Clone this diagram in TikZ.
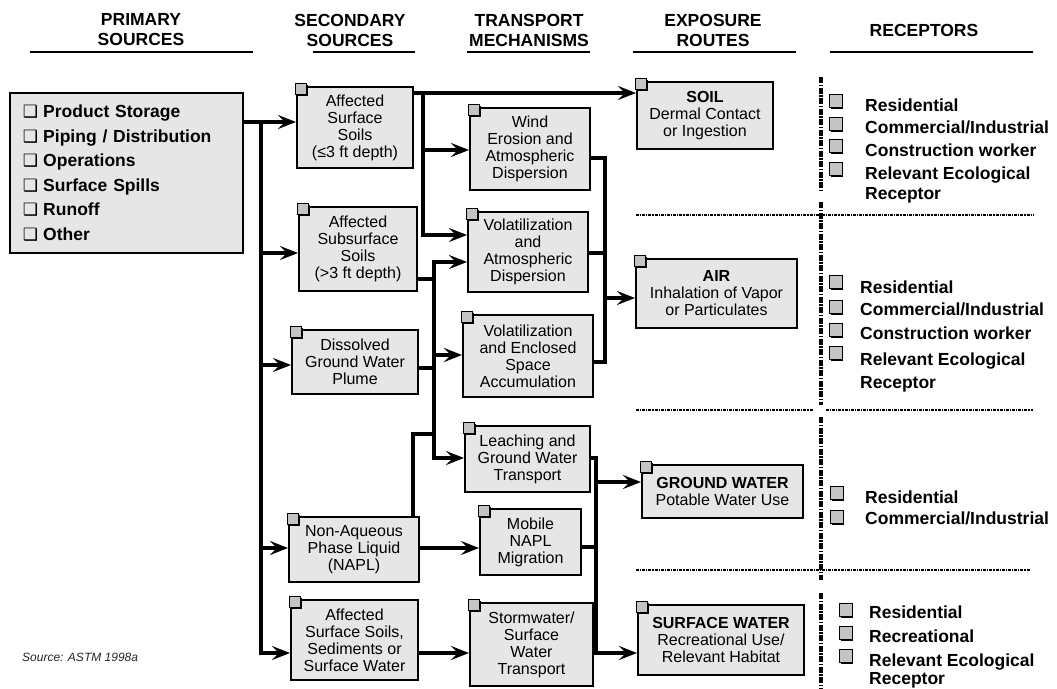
\documentclass[tikz,border=0pt]{standalone}
\usepackage{fontspec}
\setmainfont{Liberation Sans}
\newfontfamily\djv{DejaVu Sans}
\usetikzlibrary{arrows.meta,calc}
\definecolor{boxgray}{HTML}{E6E6E6}
\definecolor{sqgray}{HTML}{C4C4C4}
\newcommand{\fsbody}{\fontsize{16}{17}\selectfont}
\newcommand{\fshdr}{\fontsize{17.5}{20}\selectfont\bfseries}
\newcommand{\fsrec}{\fontsize{17.5}{20}\selectfont\bfseries}
\newcommand{\fslist}{\fontsize{17.5}{24.6}\selectfont\bfseries}
\newcommand{\fssrc}{\fontsize{12}{14}\selectfont\itshape}
\newcommand{\chk}{{\djv\fontsize{17}{17}\selectfont ❑}\hspace{5pt}}
\tikzset{
  box/.style={draw=black, line width=2pt, fill=boxgray, align=center, inner sep=1pt, font=\fsbody},
  conn/.style={line width=3.2pt, line cap=rect, line join=miter},
  arr/.style={line width=3.2pt, -{Stealth[length=18pt,width=14pt,inset=7pt]}},
  hdr/.style={font=\fshdr, align=center, inner sep=0pt},
  uline/.style={line width=2pt},
  rec/.style={font=\fsrec, anchor=base west, inner sep=0pt},
  sepH/.style={line width=2.4pt, dash pattern=on 3pt off 1pt on 1.2pt off 1pt},
  sepV/.style={line width=3.2pt, dash pattern=on 6pt off 1.5pt on 1.5pt off 1.5pt},
}
\newcommand{\tagsq}[1]{%
  \fill[black] ($(#1.north west)+(0.8,-1.2)$) rectangle +(11.5,11.5);
  \filldraw[fill=sqgray, draw=black, line width=1pt] ($(#1.north west)+(-1,-3)$) rectangle +(11,11);}
\newcommand{\recsq}[2]{%
  \fill[black] ({#1+1.8},{#2-4.5}) rectangle +(12.5,12.5);
  \filldraw[fill=sqgray, draw=black, line width=1pt] ({#1},{#2-6.5}) rectangle +(13,13);}
\begin{document}
\begin{tikzpicture}[x=1pt,y=-1pt]
\useasboundingbox[fill=white] (0,0) rectangle (1057,688);

% headers
\node[hdr] (hprim) at (141,30) {PRIMARY\\SOURCES};
\node[hdr] (hsec) at (350,30) {SECONDARY\\SOURCES};
\node[hdr] (htra) at (529,30) {TRANSPORT\\MECHANISMS};
\node[hdr] (hexp) at (713,30) {EXPOSURE\\ROUTES};
\node[hdr] (hrec) at (924,30) {RECEPTORS};
\draw[uline] (30,52) -- (253,52);
\draw[uline] (313,52) -- (415,52);
\draw[uline] (467,52) -- (590,52);
\draw[uline] (633,52) -- (796,52);
\draw[uline] (830,52) -- (1033,52);

% primary sources
\node[box, font=\fslist, align=left, minimum width=233pt, minimum height=160pt, text width=207pt] (prim) at (126.5,173)
  {\chk Product Storage\\ \chk Piping / Distribution\\ \chk Operations\\ \chk Surface Spills\\ \chk Runoff\\ \chk Other};

% secondary sources
\node[box, minimum width=116pt, minimum height=81pt] (ss) at (355,127.5) {Affected\\Surface\\Soils\\(≤3 ft depth)};
\node[box, minimum width=118pt, minimum height=84pt] (sub) at (358,249) {Affected\\Subsurface\\Soils\\(>3 ft depth)};
\node[box, minimum width=126pt, minimum height=64pt] (plume) at (355,362) {Dissolved\\Ground Water\\Plume};
\node[box, minimum width=130pt, minimum height=65pt] (napl) at (354,549.5) {Non-Aqueous\\Phase Liquid\\(NAPL)};
\node[box, minimum width=127pt, minimum height=80pt] (sed) at (354.5,640) {Affected\\Surface Soils,\\Sediments or\\Surface Water};

% transport mechanisms
\node[box, minimum width=120pt, minimum height=82pt] (wind) at (530,149) {Wind\\Erosion and\\Atmospheric\\Dispersion};
\node[box, minimum width=120pt, minimum height=80pt] (vola) at (528,252) {Volatilization\\and\\Atmospheric\\Dispersion};
\node[box, minimum width=130pt, minimum height=82pt] (vole) at (528,356) {Volatilization\\and Enclosed\\Space\\Accumulation};
\node[box, minimum width=125pt, minimum height=66pt] (leach) at (527.5,459) {Leaching and\\Ground Water\\Transport};
\node[box, minimum width=101pt, minimum height=66pt] (mobile) at (530.5,542) {Mobile\\NAPL\\Migration};
\node[box, minimum width=123pt, minimum height=83pt] (storm) at (531.5,644.5) {Stormwater/\\Surface\\Water\\Transport};

% exposure routes
\node[box, minimum width=136pt, minimum height=67pt] (soil) at (705,115.5) {\textbf{SOIL}\\Dermal Contact\\or Ingestion};
\node[box, minimum width=161pt, minimum height=69pt] (air) at (716.5,293.5) {\textbf{AIR}\\Inhalation of Vapor\\or Particulates};
\node[box, minimum width=161pt, minimum height=53pt] (gw) at (722.5,491.5) {\textbf{GROUND WATER}\\Potable Water Use};
\node[box, minimum width=166pt, minimum height=70pt] (sw) at (721,640) {\textbf{SURFACE WATER}\\Recreational Use/\\Relevant Habitat};

\foreach \n in {ss,sub,plume,napl,sed,wind,vola,vole,leach,mobile,storm,soil,air,gw,sw} {\tagsq{\n}}

% bus 1 (primary -> secondary)
\coordinate (b1a) at (261,122);
\coordinate (b1b) at (261,253);
\coordinate (b1c) at (261,365);
\coordinate (b1d) at (261,548);
\coordinate (b1e) at (261,653);
\draw[arr] (prim.east |- b1a) -- (ss.west |- b1a);
\draw[conn] (b1a) -- (b1e);
\draw[arr] (b1b) -- (sub.west |- b1b);
\draw[arr] (b1c) -- (plume.west |- b1c);
\draw[arr] (b1d) -- (napl.west |- b1d);
\draw[arr] (b1e) -- (sed.west |- b1e);

% surface soils outputs
\coordinate (c1a) at (423,93);
\coordinate (c1b) at (423,150);
\coordinate (c1c) at (423,235);
\draw[arr] (ss.east |- c1a) -- (soil.west |- c1a);
\draw[conn] (c1a) -- (c1c);
\draw[arr] (c1b) -- (wind.west |- c1b);
\draw[arr] (c1c) -- (vola.west |- c1c);

% bus 2
\coordinate (d1) at (434,262);
\coordinate (d2) at (434,279);
\coordinate (d3) at (434,355);
\coordinate (d4) at (434,368);
\coordinate (d5) at (434,434);
\coordinate (d6) at (434,458);
\coordinate (n1) at (413,434);
\draw[conn] (d1) -- (d6);
\draw[arr] (d1) -- (vola.west |- d1);
\draw[conn] (sub.east |- d2) -- (d2);
\draw[arr] (d3) -- (vole.west |- d3);
\draw[conn] (plume.east |- d4) -- (d4);
\draw[conn] (napl.north -| n1) -- (n1) -- (d5);
\draw[arr] (d6) -- (leach.west |- d6);
\draw[arr] (napl.east |- b1d) -- (mobile.west |- b1d);
\draw[arr] (sed.east |- b1e) -- (storm.west |- b1e);

% bus 3 (to AIR)
\coordinate (e1) at (605,158);
\coordinate (e2) at (605,253);
\coordinate (e3) at (605,298);
\coordinate (e4) at (605,362);
\draw[conn] (wind.east |- e1) -- (e1) -- (e4) -- (vole.east |- e4);
\draw[conn] (vola.east |- e2) -- (e2);
\draw[arr] (e3) -- (air.west |- e3);

% bus 4 (to GW, SW)
\coordinate (f1) at (596,458);
\coordinate (f2) at (596,482);
\coordinate (f3) at (596,547);
\coordinate (f4) at (596,653);
\draw[conn] (leach.east |- f1) -- (f1) -- (f4);
\draw[arr] (f2) -- (gw.west |- f2);
\draw[conn] (mobile.east |- f3) -- (f3);
\draw[arr] (storm.east |- f4) -- (sw.west |- f4);

% separators
\draw[sepV] (821,77) -- (821,192);
\draw[sepV] (821,202) -- (821,405);
\draw[sepV] (821,417) -- (821,580);
\draw[sepV] (821,593) -- (821,688);
\draw[sepH] (636,215) -- (1033,215);
\draw[sepH] (636,410) -- (813,410);
\draw[sepH] (826,410) -- (1033,410);
\draw[sepH] (636,570) -- (1030,570);

% receptors
\recsq{829}{101}\recsq{829}{124}\recsq{829}{146}\recsq{829}{169}
\node[rec] (r1a) at (865,111) {Residential};
\node[rec] (r1b) at (865,133) {Commercial/Industrial};
\node[rec] (r1c) at (865,156) {Construction worker};
\node[rec] (r1d) at (865,179) {Relevant Ecological};
\node[rec] (r1e) at (865,199) {Receptor};

\recsq{829}{282}\recsq{829}{307}\recsq{829}{330}\recsq{829}{353}
\node[rec] (r2a) at (860,293) {Residential};
\node[rec] (r2b) at (860,315) {Commercial/Industrial};
\node[rec] (r2c) at (860,339) {Construction worker};
\node[rec] (r2d) at (860,365) {Relevant Ecological};
\node[rec] (r2e) at (860,388) {Receptor};

\recsq{830}{493}\recsq{830}{517}
\node[rec] (r3a) at (865,503) {Residential};
\node[rec] (r3b) at (865,524) {Commercial/Industrial};

\recsq{839}{610}\recsq{839}{633}\recsq{839}{656}
\node[rec] (r4a) at (869,618) {Residential};
\node[rec] (r4b) at (869,642) {Recreational};
\node[rec] (r4c) at (869,666) {Relevant Ecological};
\node[rec] (r4d) at (869,684) {Receptor};

% source
\node[font=\fssrc, anchor=west, inner sep=0pt, text=black!85] (src) at (22,657) {Source: ASTM 1998a};
\end{tikzpicture}
\end{document}
